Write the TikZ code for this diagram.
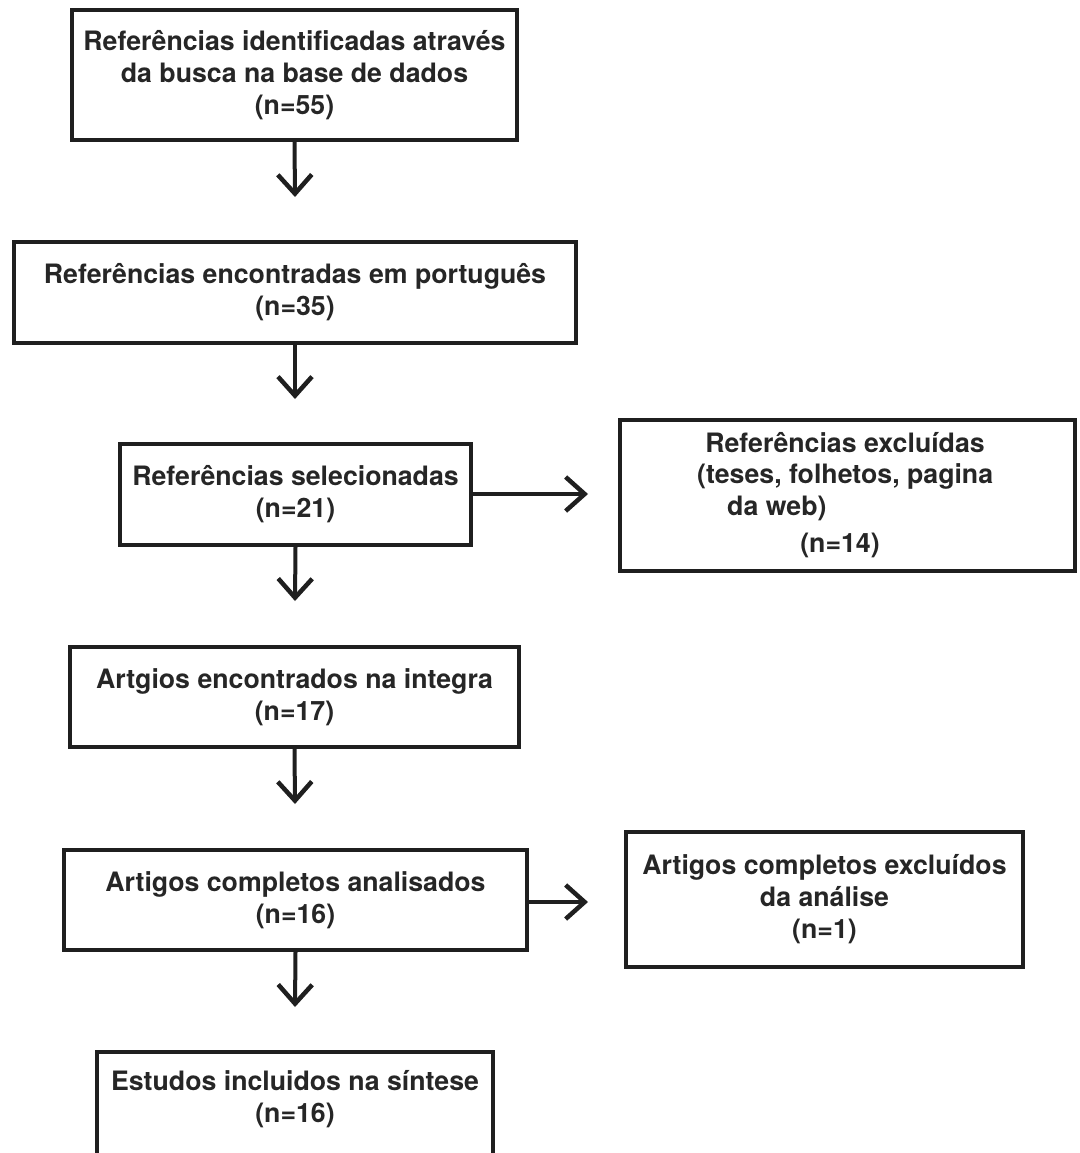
\documentclass[tikz,border=0pt]{standalone}
\usepackage{fontspec}
\setmainfont{TeX Gyre Heros}
\usetikzlibrary{arrows.meta}
\begin{document}
\begin{tikzpicture}[x=1pt,y=-1pt,
  box/.style={draw=black!88, line width=4pt, inner sep=0pt, align=center,
    font=\fontsize{26.7}{32}\selectfont\bfseries, text=black!85},
  txt/.style={inner sep=0pt, font=\fontsize{26.7}{32}\selectfont\bfseries, text=black!85},
  arr/.style={draw=black!88, line width=4pt,
    -{Straight Barb[length=19pt,width=34pt,line width=4.5pt]}}
]
\useasboundingbox (0,0) rectangle (1079,1153);
% main column
\node[box, minimum width=445pt, minimum height=130pt] (b1) at (294.5,75)
  {Referências identificadas através\\da busca na base de dados\\(n=55)};
\node[box, minimum width=562pt, minimum height=101pt] (b2) at (295,292.5)
  {Referências encontradas em português\\(n=35)};
\node[box, minimum width=351pt, minimum height=101pt] (b3) at (295.5,494.5)
  {Referências selecionadas\\(n=21)};
\node[box, minimum width=449pt, minimum height=100pt] (b5) at (294.5,697)
  {Artgios encontrados na integra\\(n=17)};
\node[box, minimum width=463pt, minimum height=100pt] (b6) at (295.5,900)
  {Artigos completos analisados\\(n=16)};
\node[box, minimum width=396pt, minimum height=120pt] (b8) at (295,1112) {};
\node[txt, align=center] (t8) at (295,1099) {Estudos incluidos na síntese\\(n=16)};
% side boxes
\node[box, minimum width=455pt, minimum height=151pt] (b4) at (847.5,495.5) {};
\node[txt] (t4a) at (845,443) {Referências excluídas};
\node[txt, anchor=west] (t4b) at (697,476) {(teses, folhetos, pagina};
\node[txt, anchor=west] (t4c) at (727,508) {da web)};
\node[txt] (t4d) at (840,545) {(n=14)};
\node[box, minimum width=397pt, minimum height=135pt] (b7) at (824.5,899.5)
  {Artigos completos excluídos\\da análise\\(n=1)};
% arrow ends
\coordinate (e1) at (295,197);
\coordinate (e2) at (295,399);
\coordinate (e3) at (295,601);
\coordinate (e5) at (295,804);
\coordinate (e6) at (295,1007);
\coordinate (h3) at (588,494);
\coordinate (h6) at (588,902);
\draw[arr] (b1.south) -- (e1);
\draw[arr] (b2.south) -- (e2);
\draw[arr] (b3.south) -- (e3);
\draw[arr] (b5.south) -- (e5);
\draw[arr] (b6.south) -- (e6);
\draw[arr] (b3.east |- h3) -- (h3);
\draw[arr] (b6.east |- h6) -- (h6);
\end{tikzpicture}
\end{document}
